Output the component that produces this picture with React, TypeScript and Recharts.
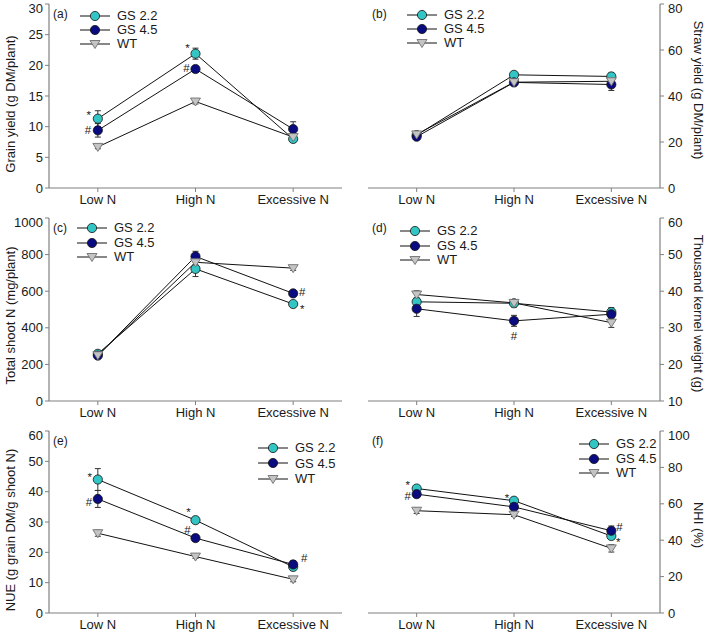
import React from 'react';
import { LineChart, Line, XAxis, YAxis, ErrorBar, LabelList, Legend } from 'recharts';

const categories = ['Low N', 'High N', 'Excessive N'];
const seriesNames = ['GS 2.2', 'GS 4.5', 'WT'];

// (a) Grain yield (g DM/plant)
const grainGS22 = [11.3, 21.9, 8.0];
const grainGS22Err = [1.3, 0.9, 0.5];
const grainGS45 = [9.4, 19.4, 9.6];
const grainGS45Err = [1.1, 0.4, 1.2];
const grainWT = [6.7, 14.1, 8.3];
const grainWTErr = [0.3, 0.4, 0.5];
const grainSig22 = ['*', '*', ''];
const grainSig45 = ['#', '#', ''];
const grainTicks = [0, 5, 10, 15, 20, 25, 30];

// (b) Straw yield (g DM/plant)
const strawGS22 = [23.0, 49.2, 48.5];
const strawGS22Err = [1.0, 1.0, 1.5];
const strawGS45 = [22.3, 45.9, 45.0];
const strawGS45Err = [1.0, 1.0, 2.6];
const strawWT = [23.3, 46.0, 46.4];
const strawWTErr = [1.0, 1.0, 1.5];
const strawTicks = [0, 20, 40, 60, 80];

// (c) Total shoot N (mg/plant)
const shootGS22 = [258, 722, 530];
const shootGS22Err = [12, 42, 12];
const shootGS45 = [248, 790, 588];
const shootGS45Err = [10, 28, 12];
const shootWT = [250, 758, 726];
const shootWTErr = [10, 15, 12];
const shootSig22 = ['', '', '*'];
const shootSig45 = ['', '', '#'];
const shootTicks = [0, 200, 400, 600, 800, 1000];

// (d) Thousand kernel weight (g)
const tkwGS22 = [37.1, 36.7, 34.3];
const tkwGS22Err = [1.0, 1.0, 1.2];
const tkwGS45 = [35.2, 31.9, 33.7];
const tkwGS45Err = [2.1, 1.5, 1.0];
const tkwWT = [39.1, 36.8, 31.4];
const tkwWTErr = [1.0, 0.9, 1.3];
const tkwSig45 = ['', '#', ''];
const tkwTicks = [10, 20, 30, 40, 50, 60];

// (e) NUE (g grain DM/g shoot N)
const nueGS22 = [44.0, 30.6, 15.2];
const nueGS22Err = [3.6, 1.0, 1.2];
const nueGS45 = [37.6, 24.7, 16.0];
const nueGS45Err = [2.8, 0.8, 1.2];
const nueWT = [26.3, 18.6, 11.1];
const nueWTErr = [1.0, 0.6, 0.8];
const nueSig22 = ['*', '*', ''];
const nueSig45 = ['#', '#', '#'];
const nueTicks = [0, 10, 20, 30, 40, 50, 60];

// (f) NHI (%)
const nhiGS22 = [68.4, 61.7, 42.3];
const nhiGS22Err = [1.5, 1.5, 1.5];
const nhiGS45 = [65.3, 58.3, 45.2];
const nhiGS45Err = [1.0, 1.0, 2.6];
const nhiWT = [56.2, 54.0, 35.5];
const nhiWTErr = [1.5, 1.0, 2.0];
const nhiSig22 = ['*', '*', '*'];
const nhiSig45 = ['#', '', '#'];
const nhiTicks = [0, 20, 40, 60, 80, 100];

const none = ['', '', ''];

const FONT = '"Liberation Sans", Arial, Helvetica, sans-serif';
const AXIS = '#808080';
const TEXT = '#1a1a1a';
const LINE = '#111111';
const CYAN = '#33c4c4';
const NAVY = '#0b0b80';
const GREY = '#c4c4c4';

type Off = [number, number][];
type Cfg = {
  tag: string;
  ylabel: string;
  side: 'left' | 'right';
  left: number;
  top: number;
  plotH: number;
  domain: [number, number];
  ticks: number[];
  vals: number[][];
  errs: number[][];
  sigs: string[][];
  offs: Off[];
  legend: { x: number; y: number; row: number };
  labelDy: number;
};

const markerShape = (k: number, cx: number, cy: number, key?: string | number) => {
  if (k === 2) {
    return (
      <polygon
        key={key}
        points={`${cx - 5},${cy - 3.5} ${cx + 5},${cy - 3.5} ${cx},${cy + 4.5}`}
        fill={GREY}
        stroke="#707070"
        strokeWidth={0.9}
      />
    );
  }
  return <circle key={key} cx={cx} cy={cy} r={4.6} fill={k === 0 ? CYAN : NAVY} stroke="#111" strokeWidth={0.8} />;
};

const makeDot = (k: number) => (p: any) => {
  if (p.cx == null || p.cy == null) return <g key={`n${p.index}`} />;
  return markerShape(k, p.cx, p.cy, `d${k}-${p.index}`);
};

const makeSig = (off: Off) => (p: any) => {
  const v = p.value;
  if (!v) return null;
  const o = off[p.index] || [0, 0];
  const base = v === '*' ? 7.5 : 4;
  return (
    <text
      key={`s${p.index}`}
      x={p.x + o[0]}
      y={p.y + o[1] + base}
      textAnchor="middle"
      fontSize={11.5}
      fontFamily={FONT}
      fill={TEXT}
    >
      {v}
    </text>
  );
};

const LegendBox = ({ row }: { row: number }) => (
  <div style={{ fontFamily: FONT }}>
    {seriesNames.map((n, k) => (
      <div key={n} style={{ display: 'flex', alignItems: 'center', height: row }}>
        <svg width={31} height={12} style={{ display: 'block' }}>
          <line x1={0} y1={6} x2={30} y2={6} stroke={LINE} strokeWidth={1} />
          {markerShape(k, 15, 6)}
        </svg>
        <span style={{ marginLeft: 6, fontSize: 13, color: TEXT, lineHeight: `${row}px`, whiteSpace: 'nowrap' }}>{n}</span>
      </div>
    ))}
  </div>
);

const keys = ['g22', 'g45', 'wt'];

function Panel({ cfg }: { cfg: Cfg }) {
  const rows = categories.map((c, i) => {
    const r: any = { cat: c };
    keys.forEach((k, s) => {
      r[k] = cfg.vals[s][i];
      r[k + 'e'] = cfg.errs[s][i];
      r[k + 's'] = cfg.sigs[s][i];
    });
    return r;
  });
  const right = cfg.side === 'right';
  const W = right ? 354 : 355;
  const H = 4 + cfg.plotH + 22;
  const margin = right ? { top: 4, right: 0, left: 13, bottom: 0 } : { top: 4, right: 13, left: 0, bottom: 0 };
  const plotW = W - 13 - 49;
  const tickStyle = { fontSize: 13, fill: TEXT, fontFamily: FONT };

  const yLabel = (p: any) => {
    const vb = p.viewBox || {};
    const cy = vb.y + vb.height / 2 + cfg.labelDy;
    const cx = right ? vb.x + 38 : vb.x + 10;
    const tagX = right ? vb.x - plotW + 4 : vb.x + vb.width + 4;
    return (
      <g>
        <text
          x={cx}
          y={cy}
          transform={`rotate(${right ? 90 : -90} ${cx} ${cy})`}
          textAnchor="middle"
          dominantBaseline="central"
          fontSize={13}
          fontFamily={FONT}
          fill={TEXT}
        >
          {cfg.ylabel}
        </text>
        <text x={tagX} y={vb.y + 14} fontSize={12} fontFamily={FONT} fill={TEXT}>
          {cfg.tag}
        </text>
      </g>
    );
  };

  const pad = plotW / 6;

  return (
    <div style={{ position: 'absolute', left: cfg.left, top: cfg.top }}>
      <LineChart width={W} height={H} data={rows} margin={margin}>
        <XAxis
          dataKey="cat"
          height={22}
          interval={0}
          padding={{ left: pad, right: pad }}
          tickSize={4}
          tickMargin={3}
          tickLine={{ stroke: AXIS }}
          axisLine={{ stroke: AXIS, strokeWidth: 1.2 }}
          tick={tickStyle}
        />
        <XAxis
          xAxisId="f"
          dataKey="cat"
          orientation="top"
          height={0}
          tick={false}
          tickLine={false}
          axisLine={{ stroke: AXIS, strokeWidth: 1.2 }}
        />
        <YAxis
          orientation={right ? 'right' : 'left'}
          width={49}
          domain={cfg.domain}
          ticks={cfg.ticks}
          type="number"
          allowDataOverflow
          tickSize={4}
          tickMargin={right ? 4 : 2}
          tickLine={{ stroke: AXIS }}
          axisLine={{ stroke: AXIS, strokeWidth: 1.2 }}
          tick={tickStyle}
          label={yLabel}
        />
        <YAxis
          yAxisId="f"
          orientation={right ? 'left' : 'right'}
          width={0}
          type="number"
          domain={[0, 1]}
          tick={false}
          tickLine={false}
          axisLine={{ stroke: AXIS, strokeWidth: 1.2 }}
        />
        {keys.map((k, s) => (
          <Line
            key={k}
            dataKey={k}
            stroke={LINE}
            strokeWidth={1}
            dot={makeDot(s)}
            activeDot={false}
            isAnimationActive={false}
            legendType="none"
          >
            <ErrorBar dataKey={k + 'e'} width={3} stroke="#333" strokeWidth={1} direction="y" />
            <LabelList dataKey={k + 's'} content={makeSig(cfg.offs[s])} />
          </Line>
        ))}
        <Legend
          layout="vertical"
          align="center"
          verticalAlign="middle"
          wrapperStyle={{ left: cfg.legend.x, top: cfg.legend.y, width: 'auto' }}
          content={() => <LegendBox row={cfg.legend.row} />}
        />
      </LineChart>
    </div>
  );
}

const z: Off = [[0, 0], [0, 0], [0, 0]];

const panels: Cfg[] = [
  {
    tag: '(a)', ylabel: 'Grain yield (g DM/plant)', side: 'left', left: 0, top: 0, plotH: 184,
    domain: [0, 30], ticks: grainTicks,
    vals: [grainGS22, grainGS45, grainWT], errs: [grainGS22Err, grainGS45Err, grainWTErr],
    sigs: [grainSig22, grainSig45, none],
    offs: [[[-9, -7], [-8, -9], [0, 0]], [[-10, 0], [-9, -1], [0, 0]], z],
    legend: { x: 80, y: 9, row: 14 }, labelDy: 8,
  },
  {
    tag: '(b)', ylabel: 'Straw yield (g DM/plant)', side: 'right', left: 355, top: 0, plotH: 184,
    domain: [0, 80], ticks: strawTicks,
    vals: [strawGS22, strawGS45, strawWT], errs: [strawGS22Err, strawGS45Err, strawWTErr],
    sigs: [none, none, none], offs: [z, z, z],
    legend: { x: 52, y: 8, row: 14 }, labelDy: -6,
  },
  {
    tag: '(c)', ylabel: 'Total shoot N (mg/plant)', side: 'left', left: 0, top: 214, plotH: 183,
    domain: [0, 1000], ticks: shootTicks,
    vals: [shootGS22, shootGS45, shootWT], errs: [shootGS22Err, shootGS45Err, shootWTErr],
    sigs: [shootSig22, shootSig45, none],
    offs: [[[0, 0], [0, 0], [9, 1]], [[0, 0], [0, 0], [9, -1]], z],
    legend: { x: 77, y: 7, row: 14.5 }, labelDy: 6,
  },
  {
    tag: '(d)', ylabel: 'Thousand kernel weight (g)', side: 'right', left: 355, top: 214, plotH: 183,
    domain: [10, 60], ticks: tkwTicks,
    vals: [tkwGS22, tkwGS45, tkwWT], errs: [tkwGS22Err, tkwGS45Err, tkwWTErr],
    sigs: [none, tkwSig45, none],
    offs: [z, [[0, 0], [0, 15], [0, 0]], z],
    legend: { x: 45, y: 10, row: 14.5 }, labelDy: 4,
  },
  {
    tag: '(e)', ylabel: 'NUE (g grain DM/g shoot N)', side: 'left', left: 0, top: 427, plotH: 182,
    domain: [0, 60], ticks: nueTicks,
    vals: [nueGS22, nueGS45, nueWT], errs: [nueGS22Err, nueGS45Err, nueWTErr],
    sigs: [nueSig22, nueSig45, none],
    offs: [[[-8, -6], [-7, -12], [0, 0]], [[-9, 3], [-8, -8], [11, -6]], z],
    legend: { x: 258, y: 13, row: 15.5 }, labelDy: 8,
  },
  {
    tag: '(f)', ylabel: 'NHI (%)', side: 'right', left: 355, top: 427, plotH: 182,
    domain: [0, 100], ticks: nhiTicks,
    vals: [nhiGS22, nhiGS45, nhiWT], errs: [nhiGS22Err, nhiGS45Err, nhiWTErr],
    sigs: [nhiSig22, nhiSig45, none],
    offs: [[[-9, -7], [-7, -6], [7, 2]], [[-9, 2], [0, 0], [8, -4]], z],
    legend: { x: 224, y: 10, row: 14.5 }, labelDy: 3,
  },
];

export default function App() {
  return (
    <div style={{ position: 'fixed', left: 0, top: 0, width: 709, height: 634, background: '#fff', overflow: 'hidden' }}>
      {panels.map((p) => (
        <Panel key={p.tag} cfg={p} />
      ))}
    </div>
  );
}
